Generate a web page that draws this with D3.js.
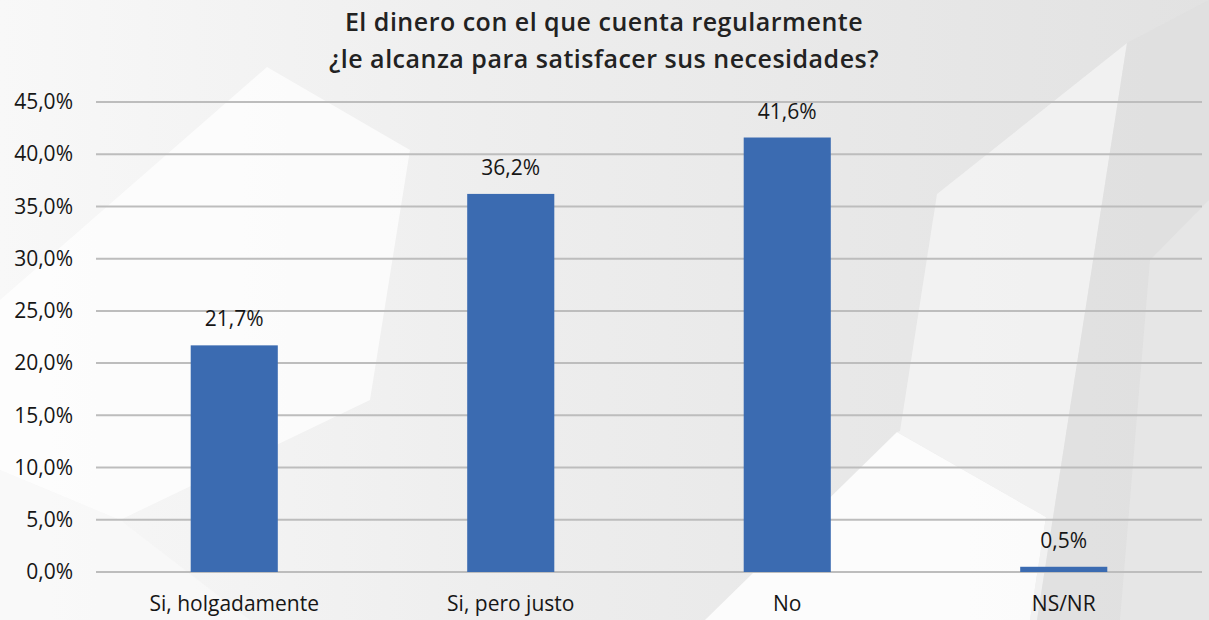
<!DOCTYPE html>
<html>
<head>
<meta charset="utf-8">
<script src="https://cdn.jsdelivr.net/npm/d3@7"></script>
<style>
  html, body { margin: 0; padding: 0; }
  body { width: 1209px; height: 620px; overflow: hidden; }
  #chart { display: block; }
</style>
</head>
<body>
<svg id="chart"></svg>
<script>
// Chart size
const width = 1209;
const height = 620;

// Data
const categories = ['Si, holgadamente', 'Si, pero justo', 'No', 'NS/NR'];
const values = [21.7, 36.2, 41.6, 0.5];
const yTicks = [0, 5, 10, 15, 20, 25, 30, 35, 40, 45];
const titleLines = ['El dinero con el que cuenta regularmente', '¿le alcanza para satisfacer sus necesidades?'];

const margin = { top: 102, right: 7, bottom: 48, left: 96 };

const svg = d3.select('#chart')
  .attr('width', width)
  .attr('height', height);

// Background: light gray with soft white facets
const defs = svg.append('defs');
const grad = defs.append('linearGradient')
  .attr('id', 'bg')
  .attr('x1', '0').attr('y1', '0')
  .attr('x2', '1').attr('y2', '0');
grad.append('stop').attr('offset', '0%').attr('stop-color', '#f8f8f8');
grad.append('stop').attr('offset', '40%').attr('stop-color', '#eeeeee');
grad.append('stop').attr('offset', '100%').attr('stop-color', '#e2e2e2');

svg.append('rect')
  .attr('width', width)
  .attr('height', height)
  .attr('fill', 'url(#bg)');

const facets = [
  { pts: [[267, 67], [410, 150], [370, 400], [120, 520], [0, 470], [0, 300]], fill: '#ffffff', op: 0.7 },
  { pts: [[0, 470], [120, 520], [250, 620], [0, 620]], fill: '#fafafa', op: 0.6 },
  { pts: [[897, 432], [1046, 517], [1030, 620], [705, 620]], fill: '#ffffff', op: 0.85 },
  { pts: [[937, 194], [1127, 43], [1037, 620], [1030, 620], [1046, 517], [897, 432], [900, 431]], fill: '#f6f6f6', op: 0.7 },
  { pts: [[1127, 43], [1209, 0], [1209, 620], [1037, 620]], fill: '#dedede', op: 0.5 },
  { pts: [[1150, 260], [1209, 200], [1209, 620], [1120, 620]], fill: '#eaeaea', op: 0.6 }
];
svg.append('g')
  .selectAll('polygon')
  .data(facets)
  .join('polygon')
  .attr('points', (d) => d.pts.map((p) => p.join(',')).join(' '))
  .attr('fill', (d) => d.fill)
  .attr('opacity', (d) => d.op);

// Scales
const x = d3.scaleBand()
  .domain(categories)
  .range([margin.left, width - margin.right])
  .paddingInner(0.685)
  .paddingOuter(0.3425);

const y = d3.scaleLinear()
  .domain([0, 45])
  .range([height - margin.bottom, margin.top]);

const fmt = (v) => v.toFixed(1).replace('.', ',') + '%';

// Gridlines
svg.append('g')
  .selectAll('line')
  .data(yTicks)
  .join('line')
  .attr('x1', margin.left)
  .attr('x2', width - margin.right)
  .attr('y1', (d) => y(d))
  .attr('y2', (d) => y(d))
  .attr('stroke', '#bdbdbd')
  .attr('stroke-width', 2);

// Y axis labels
const yAxis = d3.axisLeft(y)
  .tickValues(yTicks)
  .tickSize(0)
  .tickPadding(23)
  .tickFormat(fmt);

svg.append('g')
  .attr('transform', `translate(${margin.left},0)`)
  .call(yAxis)
  .call((g) => g.select('.domain').remove())
  .selectAll('text')
  .attr('font-family', 'Open Sans, sans-serif')
  .attr('font-size', 21)
  .attr('fill', '#161616');

// X axis labels
const xAxis = d3.axisBottom(x).tickSize(0).tickPadding(24);
svg.append('g')
  .attr('transform', `translate(0,${height - margin.bottom})`)
  .call(xAxis)
  .call((g) => g.select('.domain').remove())
  .selectAll('text')
  .attr('font-family', 'Open Sans, sans-serif')
  .attr('font-size', 21)
  .attr('fill', '#161616');

// Bars
svg.append('g')
  .selectAll('rect')
  .data(values)
  .join('rect')
  .attr('x', (d, i) => x(categories[i]))
  .attr('y', (d) => y(d))
  .attr('width', x.bandwidth())
  .attr('height', (d) => y(0) - y(d))
  .attr('fill', '#3b6bb1');

// Value labels
svg.append('g')
  .selectAll('text')
  .data(values)
  .join('text')
  .attr('x', (d, i) => x(categories[i]) + x.bandwidth() / 2)
  .attr('y', (d) => y(d) - 19)
  .attr('text-anchor', 'middle')
  .attr('font-family', 'Open Sans, sans-serif')
  .attr('font-size', 21)
  .attr('fill', '#161616')
  .text(fmt);

// Title
svg.append('g')
  .selectAll('text')
  .data(titleLines)
  .join('text')
  .attr('x', 604)
  .attr('y', (d, i) => 31 + i * 37)
  .attr('text-anchor', 'middle')
  .attr('font-family', 'Open Sans, sans-serif')
  .attr('font-weight', 600)
  .attr('font-size', 25)
  .attr('letter-spacing', 0.5)
  .attr('fill', '#222222')
  .text((d) => d);
</script>
</body>
</html>
